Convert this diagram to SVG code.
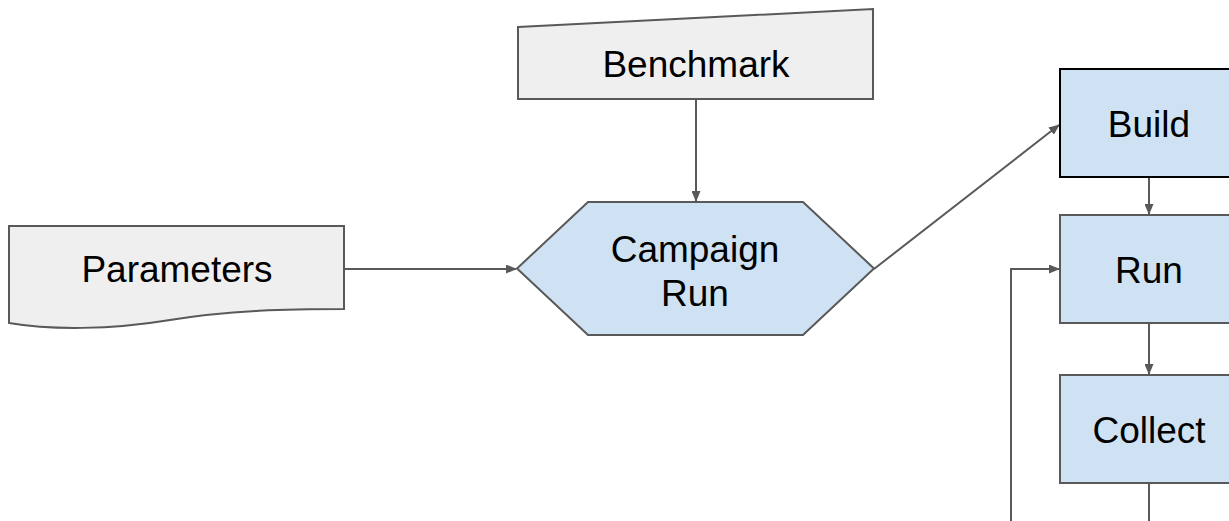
<svg xmlns="http://www.w3.org/2000/svg" width="1229" height="521" viewBox="0 0 1229 521">
  <style>
    .label { font-family: "Liberation Sans", Arial, sans-serif; font-size: 37px; fill: #000; text-anchor: middle; }
    .input { fill: #efefef; stroke: #595959; stroke-width: 2; }
    .step { fill: #cfe2f3; stroke: #595959; stroke-width: 2; }
    .step-active { fill: #cfe2f3; stroke: #000; stroke-width: 2; }
    .wire { fill: none; stroke: #595959; stroke-width: 2; }
  </style>
  <defs>
    <marker id="arrow" markerUnits="userSpaceOnUse" markerWidth="11" markerHeight="9" refX="10" refY="4.5" orient="auto">
      <path d="M0,0 L11,4.5 L0,9 Z" fill="#595959"/>
    </marker>
  </defs>
  <rect width="1229" height="521" fill="#fff"/>

  <g id="connectors">
    <line class="wire" x1="344" y1="269" x2="516" y2="269" marker-end="url(#arrow)"/>
    <line class="wire" x1="696" y1="99" x2="696" y2="201" marker-end="url(#arrow)"/>
    <line class="wire" x1="874" y1="269" x2="1059" y2="125" marker-end="url(#arrow)"/>
    <line class="wire" x1="1149" y1="177" x2="1149" y2="214" marker-end="url(#arrow)"/>
    <line class="wire" x1="1149" y1="323" x2="1149" y2="374" marker-end="url(#arrow)"/>
    <line class="wire" x1="1149" y1="483" x2="1149" y2="521"/>
    <polyline class="wire" points="1011,521 1011,269 1059,269" marker-end="url(#arrow)"/>
  </g>

  <g id="parameters">
    <path class="input" d="M9,226 H344 V309 C290,309 230,310 170,320 C110,330 50,330 9,323 Z"/>
    <text class="label" x="177" y="282">Parameters</text>
  </g>

  <g id="benchmark">
    <path class="input" d="M518,27 L873,9 L873,99 L518,99 Z"/>
    <text class="label" x="696" y="77">Benchmark</text>
  </g>

  <g id="campaign-run">
    <path class="step" d="M517,268.5 L588,202 L803,202 L874,268.5 L803,335 L588,335 Z"/>
    <text class="label" x="695" y="262">Campaign</text>
    <text class="label" x="695" y="306">Run</text>
  </g>

  <g id="build">
    <rect class="step-active" x="1060" y="69" width="178" height="108"/>
    <text class="label" x="1149" y="137">Build</text>
  </g>

  <g id="run">
    <rect class="step" x="1060" y="215" width="178" height="108"/>
    <text class="label" x="1149" y="283">Run</text>
  </g>

  <g id="collect">
    <rect class="step" x="1060" y="375" width="178" height="108"/>
    <text class="label" x="1149" y="443">Collect</text>
  </g>
</svg>
